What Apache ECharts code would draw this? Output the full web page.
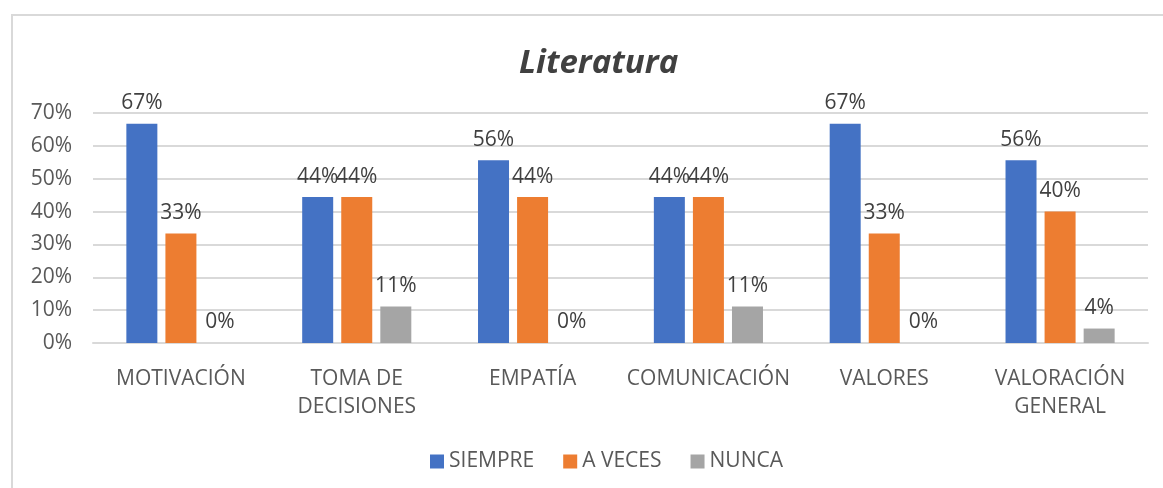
<!DOCTYPE html>
<html>
<head>
<meta charset="utf-8">
<script src="https://cdn.jsdelivr.net/npm/echarts@6/dist/echarts.min.js"></script>
<style>
  html, body { margin: 0; padding: 0; background: #fff; }
  #chart { width: 1163px; height: 488px; }
</style>
</head>
<body>
<div id="chart"></div>
<script>
var categories = ['MOTIVACIÓN', 'TOMA DE\nDECISIONES', 'EMPATÍA', 'COMUNICACIÓN', 'VALORES', 'VALORACIÓN\nGENERAL']
var siempre = [0.667, 0.444, 0.556, 0.444, 0.667, 0.556]
var aVeces = [0.333, 0.444, 0.444, 0.444, 0.333, 0.40]
var nunca = [0, 0.111, 0, 0.111, 0, 0.044]
var seriesNames = ['SIEMPRE', 'A VECES', 'NUNCA']
var colors = ['#4472C4', '#ED7D31', '#A5A5A5']

var font = '"Open Sans", "Noto Sans", sans-serif'
var myChart = echarts.init(document.getElementById('chart'))

function pct(v) {
  return Math.round(v * 100) + '%'
}

function barSeries(name, data, color) {
  return {
    name: name,
    type: 'bar',
    data: data,
    barWidth: 31,
    barGap: '26%',
    itemStyle: { color: color },
    label: {
      show: true,
      position: 'top',
      distance: 10,
      color: '#404040',
      fontSize: 21,
      fontFamily: font,
      formatter: function (p) { return pct(p.value) }
    }
  }
}

var option = {
  animation: false,
  backgroundColor: '#fff',
  graphic: [{
    type: 'rect',
    shape: { x: 12, y: 15, width: 1170, height: 490 },
    style: { fill: 'none', stroke: '#d9d9d9', lineWidth: 2 },
    silent: true
  }],
  title: {
    text: 'Literatura',
    left: 514,
    top: 42,
    textStyle: {
      fontFamily: font,
      fontSize: 33,
      fontStyle: 'italic',
      fontWeight: 'bold',
      color: '#404040'
    }
  },
  grid: {
    left: 93,
    right: 15,
    top: 113,
    bottom: 145
  },
  legend: {
    bottom: 11,
    left: 425,
    itemWidth: 14,
    itemHeight: 14,
    itemGap: 29,
    icon: 'rect',
    textStyle: { color: '#595959', fontSize: 21, fontFamily: font }
  },
  xAxis: {
    type: 'category',
    data: categories,
    axisLine: { lineStyle: { color: '#d9d9d9', width: 2 } },
    axisTick: { show: false },
    axisLabel: {
      color: '#595959',
      fontSize: 21,
      fontFamily: font,
      margin: 22,
      lineHeight: 28,
      interval: 0
    }
  },
  yAxis: {
    type: 'value',
    min: 0,
    max: 0.7,
    interval: 0.1,
    axisLine: { show: false },
    axisTick: { show: false },
    splitLine: { lineStyle: { color: '#d9d9d9', width: 2 } },
    axisLabel: {
      color: '#595959',
      fontSize: 21,
      fontFamily: font,
      margin: 21,
      formatter: function (v) { return pct(v) }
    }
  },
  series: [
    barSeries(seriesNames[0], siempre, colors[0]),
    barSeries(seriesNames[1], aVeces, colors[1]),
    barSeries(seriesNames[2], nunca, colors[2])
  ]
}

myChart.setOption(option)
</script>
</body>
</html>
